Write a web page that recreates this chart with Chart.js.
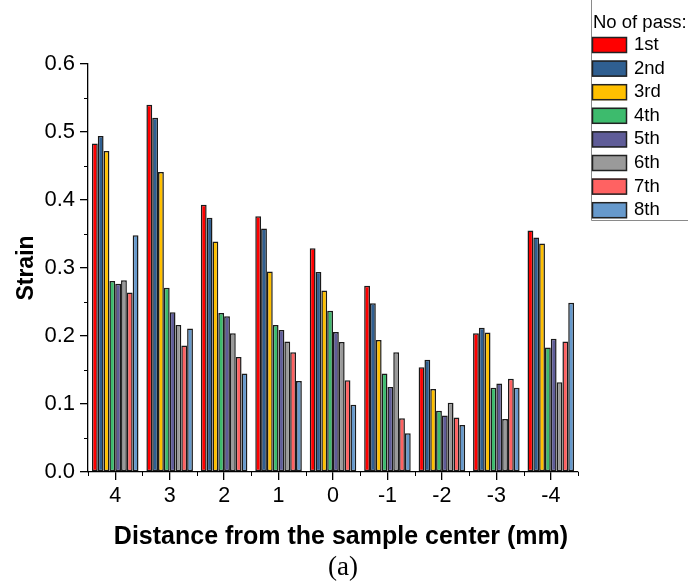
<!DOCTYPE html>
<html><head><meta charset="utf-8">
<script src="https://cdn.jsdelivr.net/npm/chart.js@4/dist/chart.umd.min.js"></script>
<style>html,body{margin:0;padding:0;background:#fff;}</style>
</head><body>
<canvas id="c" width="688" height="585" style="display:block;width:688px;height:585px"></canvas>
<script>
const categories = ['4', '3', '2', '1', '0', '-1', '-2', '-3', '-4'];
const passLabels = ['1st', '2nd', '3rd', '4th', '5th', '6th', '7th', '8th'];
const pass1 = [0.483, 0.540, 0.393, 0.376, 0.329, 0.274, 0.154, 0.204, 0.355];
const pass2 = [0.494, 0.521, 0.374, 0.358, 0.294, 0.248, 0.165, 0.212, 0.345];
const pass3 = [0.472, 0.441, 0.339, 0.295, 0.267, 0.194, 0.122, 0.205, 0.336];
const pass4 = [0.281, 0.271, 0.234, 0.216, 0.237, 0.145, 0.090, 0.124, 0.183];
const pass5 = [0.277, 0.235, 0.229, 0.209, 0.206, 0.125, 0.083, 0.130, 0.196];
const pass6 = [0.282, 0.216, 0.204, 0.192, 0.191, 0.176, 0.102, 0.078, 0.132];
const pass7 = [0.264, 0.186, 0.169, 0.176, 0.135, 0.079, 0.080, 0.137, 0.192];
const pass8 = [0.348, 0.211, 0.145, 0.134, 0.099, 0.057, 0.069, 0.124, 0.249];
const yTicks = [0.0, 0.1, 0.2, 0.3, 0.4, 0.5, 0.6];
const legendTitle = 'No of pass:';
const xTitle = 'Distance from the sample center (mm)';
const yTitle = 'Strain';
const caption = '(a)';

const seriesValues = [pass1, pass2, pass3, pass4, pass5, pass6, pass7, pass8];
const colors = ['#FF0000', '#2F5F91', '#FFC000', '#3DBB6D', '#5F5C98', '#9A9A9A', '#FF6262', '#6699CC'];
const FONT = "'Liberation Sans', Arial, sans-serif";

const extras = {
  id: 'extras',
  afterDraw(chart) {
    const ctx = chart.ctx;
    const x = chart.scales.x, y = chart.scales.y;
    ctx.save();
    ctx.strokeStyle = '#000';
    ctx.lineWidth = 1;
    for (let i = 0; i < yTicks.length - 1; i++) {
      const v = (yTicks[i] + yTicks[i + 1]) / 2;
      const py = Math.round(y.getPixelForValue(v)) + 0.5;
      ctx.beginPath(); ctx.moveTo(y.right - 4, py); ctx.lineTo(y.right, py); ctx.stroke();
    }
    const n = categories.length;
    for (let i = 0; i <= n; i++) {
      let px;
      if (i === 0) px = chart.chartArea.left;
      else if (i === n) px = chart.chartArea.right;
      else px = (x.getPixelForTick(i - 1) + x.getPixelForTick(i)) / 2;
      px = Math.round(px) + 0.5;
      ctx.beginPath(); ctx.moveTo(px, x.top); ctx.lineTo(px, x.top + 4); ctx.stroke();
    }
    ctx.fillStyle = '#000';
    ctx.textAlign = 'center'; ctx.textBaseline = 'middle';
    ctx.font = 'bold 25px ' + FONT;
    ctx.fillText(xTitle, 341, 537);
    ctx.font = "27px 'Liberation Serif', 'Times New Roman', serif";
    ctx.fillText(caption, 343, 568);
    ctx.strokeStyle = '#8a8a8a';
    ctx.lineWidth = 1;
    ctx.beginPath();
    ctx.moveTo(591.5, 0); ctx.lineTo(591.5, 220.5); ctx.lineTo(690, 220.5);
    ctx.stroke();
    ctx.font = '18.5px ' + FONT;
    ctx.textAlign = 'left'; ctx.textBaseline = 'middle';
    ctx.fillStyle = '#000';
    ctx.fillText(legendTitle, 593, 23);
    chart.data.datasets.forEach((ds, i) => {
      const cy = 45 + i * 23.6;
      ctx.fillStyle = ds.backgroundColor;
      ctx.fillRect(592, cy - 8, 35, 16);
      ctx.strokeStyle = '#222';
      ctx.lineWidth = 1.5;
      ctx.strokeRect(592.5, cy - 7.5, 34, 15);
      ctx.fillStyle = '#000';
      ctx.fillText(ds.label, 634, cy);
    });
    ctx.restore();
  }
};

new Chart(document.getElementById('c'), {
  type: 'bar',
  data: {
    labels: categories,
    datasets: seriesValues.map((vals, i) => ({
      label: passLabels[i],
      data: vals,
      backgroundColor: colors[i],
      borderColor: '#1a1a1a',
      borderWidth: 1.5,
      borderSkipped: false,
      categoryPercentage: 0.855,
      barPercentage: 1.0
    }))
  },
  options: {
    responsive: false,
    devicePixelRatio: 1,
    animation: false,
    layout: { padding: { left: 0, top: 64, right: 110, bottom: 0 } },
    plugins: { legend: { display: false }, tooltip: { enabled: false } },
    scales: {
      x: {
        type: 'category',
        offset: true,
        grid: { offset: false, drawOnChartArea: false, drawTicks: true, tickLength: 8, color: '#000', lineWidth: 1.3 },
        border: { display: true, color: '#000', width: 1.3 },
        ticks: { color: '#000', font: { family: FONT, size: 21.5 }, padding: 3, maxRotation: 0 },
        title: { display: false, text: xTitle },
        afterFit(s) { s.height = 113; }
      },
      y: {
        min: 0, max: 0.6,
        afterBuildTicks(s) { s.ticks = yTicks.map(v => ({ value: v })); },
        grid: { drawOnChartArea: false, drawTicks: true, tickLength: 8, color: '#000', lineWidth: 1.3 },
        border: { display: true, color: '#000', width: 1.3 },
        ticks: { color: '#000', font: { family: FONT, size: 22 }, padding: 5, callback: v => Number(v).toFixed(1) },
        title: { display: true, text: yTitle, color: '#000', font: { family: FONT, size: 23, weight: 'bold' }, padding: { top: 13, bottom: 0 } },
        afterFit(s) { s.width = 88; }
      }
    }
  },
  plugins: [extras]
});
</script>
</body></html>
